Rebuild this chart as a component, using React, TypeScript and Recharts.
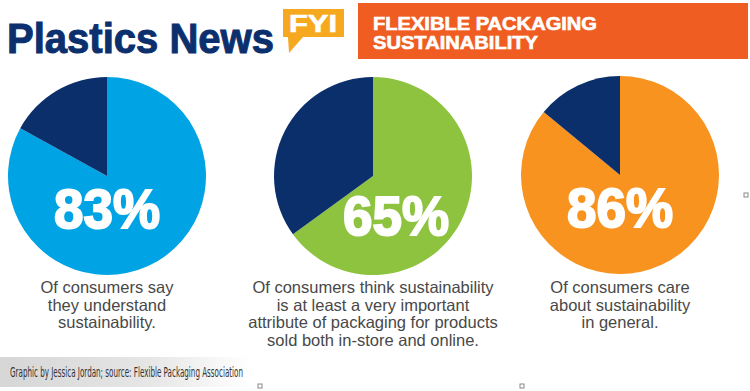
import React from 'react';
import { PieChart, Pie, Cell, Label } from 'recharts';

const categories = ['understand', 'important', 'care'];
const agreeValues = [83, 65, 86];
const restValues = [17, 35, 14];
const mainColors = ['#00a4e4', '#8dc33f', '#f7931e'];
const darkColor = '#0a2f6b';
const captions = [
  ['Of consumers say', 'they understand', 'sustainability.'],
  [
    'Of consumers think sustainability',
    'is at least a very important',
    'attribute of packaging for products',
    'sold both in-store and online.',
  ],
  ['Of consumers care', 'about sustainability', 'in general.'],
];

// where each pie sits and how its big number is nudged
const pieCenters = [
  { cx: 107, cy: 176 },
  { cx: 373, cy: 176 },
  { cx: 620, cy: 175 },
];
const numberOffsets = [
  { dx: 0, dy: 52 },
  { dx: 23, dy: 59 },
  { dx: 0, dy: 52 },
];

const W = 750;
const H = 391;
const SANS = "'Liberation Sans', Arial, sans-serif";

const App: React.FC = () => {
  return (
    <div style={{ position: 'absolute', left: 0, top: 0, width: W, height: H, background: '#fff' }}>
      <PieChart width={W} height={H} margin={{ top: 0, right: 0, bottom: 0, left: 0 }}>
        {categories.map((cat, i) => {
          const data = [
            { name: 'yes', value: agreeValues[i] },
            { name: 'no', value: restValues[i] },
          ];
          return (
            <Pie
              key={cat}
              data={data}
              dataKey="value"
              cx={pieCenters[i].cx}
              cy={pieCenters[i].cy}
              outerRadius={99}
              startAngle={90}
              endAngle={-270}
              stroke="none"
              isAnimationActive={false}
            >
              {data.map((d, j) => (
                <Cell key={d.name} fill={j === 0 ? mainColors[i] : darkColor} />
              ))}
              <Label
                content={(props: any) => {
                  const vb = props.viewBox || {};
                  const x = (vb.cx ?? pieCenters[i].cx) + numberOffsets[i].dx;
                  const y = (vb.cy ?? pieCenters[i].cy) + numberOffsets[i].dy;
                  return (
                    <text
                      x={x}
                      y={y}
                      textAnchor="middle"
                      fill="#fff"
                      stroke="#fff"
                      strokeWidth={2}
                      fontFamily={SANS}
                      fontWeight={700}
                      fontSize={55}
                      textLength={106}
                      lengthAdjust="spacingAndGlyphs"
                    >
                      {agreeValues[i]}%
                    </text>
                  );
                }}
              />
            </Pie>
          );
        })}
      </PieChart>

      <svg
        width={W}
        height={H}
        style={{ position: 'absolute', left: 0, top: 0, pointerEvents: 'none' }}
      >
        <defs>
          <linearGradient id="footFade" x1="0" y1="0" x2="1" y2="0">
            <stop offset="0%" stopColor="#d6d6d6" />
            <stop offset="60%" stopColor="#e6e6e6" />
            <stop offset="100%" stopColor="#ffffff" />
          </linearGradient>
        </defs>

        {/* masthead */}
        <text
          x={7}
          y={53}
          fill="#0c2f6e"
          stroke="#0c2f6e"
          strokeWidth={1}
          fontFamily={SANS}
          fontWeight={700}
          fontSize={42}
          textLength={267}
          lengthAdjust="spacingAndGlyphs"
        >
          Plastics News
        </text>
        <path d="M283 9 H344 V37 H303 L289 53 L288 37 H283 Z" fill="#f6a91e" />
        <text
          x={289}
          y={32}
          fill="#fff"
          stroke="#fff"
          strokeWidth={0.6}
          fontFamily={SANS}
          fontWeight={700}
          fontSize={23}
          textLength={48}
          lengthAdjust="spacingAndGlyphs"
        >
          FYI
        </text>
        <rect x={358} y={3} width={390} height={56} fill="#f05d23" />
        <text
          x={373}
          y={29.5}
          fill="#fff"
          stroke="#fff"
          strokeWidth={0.6}
          fontFamily={SANS}
          fontWeight={700}
          fontSize={17.5}
          textLength={224}
          lengthAdjust="spacingAndGlyphs"
        >
          FLEXIBLE PACKAGING
        </text>
        <text
          x={373}
          y={49}
          fill="#fff"
          stroke="#fff"
          strokeWidth={0.6}
          fontFamily={SANS}
          fontWeight={700}
          fontSize={17.5}
          textLength={165}
          lengthAdjust="spacingAndGlyphs"
        >
          SUSTAINABILITY
        </text>

        {/* captions */}
        {captions.map((lines, i) => (
          <text
            key={categories[i]}
            textAnchor="middle"
            fill="#484848"
            fontFamily={SANS}
            fontSize={16.5}
          >
            {lines.map((ln, k) => (
              <tspan key={k} x={pieCenters[i].cx} y={293 + k * 17.5}>
                {ln}
              </tspan>
            ))}
          </text>
        ))}

        {/* footer */}
        <rect x={0} y={357} width={250} height={30} fill="url(#footFade)" />
        <text
          x={10}
          y={377}
          fill="#333"
          fontFamily="'Liberation Sans Narrow', 'DejaVu Sans Condensed', Arial, sans-serif"
          fontSize={13.5}
          textLength={233}
          lengthAdjust="spacingAndGlyphs"
        >
          Graphic by Jessica Jordan; source: Flexible Packaging Association
        </text>

        {/* little handle squares */}
        <rect x={258} y={384} width={4} height={4} fill="#fff" stroke="#888" strokeWidth={1} />
        <rect x={520} y={384} width={4} height={4} fill="#fff" stroke="#888" strokeWidth={1} />
        <rect x={744} y={193} width={4} height={4} fill="#fff" stroke="#888" strokeWidth={1} />
      </svg>
    </div>
  );
};

export default App;
